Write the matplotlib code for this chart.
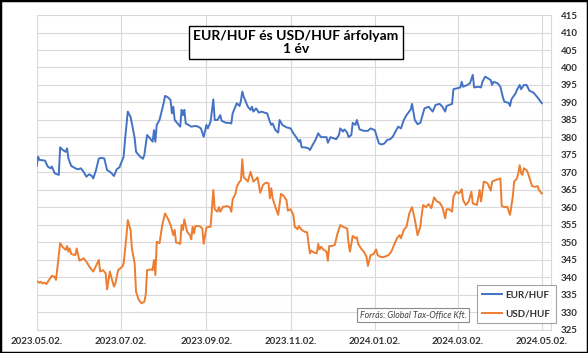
import matplotlib
matplotlib.use("Agg")
import matplotlib.pyplot as plt
import matplotlib.dates as mdates
from matplotlib.patches import Rectangle
import datetime as dt

plt.rcParams['font.family'] = ['Lato', 'DejaVu Sans']

START = dt.date(2023, 5, 2)

# days since 2023-05-02 and rates
eur_days = [0, 1, 2, 6, 8, 10, 11, 13, 16, 17, 19, 21, 22, 23, 25, 28, 30, 32, 34, 36,
            38, 40, 41, 43, 45, 47, 49, 51, 53, 54, 56, 58, 60, 63, 64, 66, 68, 69, 71, 72,
            75, 77, 78, 80, 82, 84, 85, 86, 87, 89,
            92, 93, 95, 97, 98, 99, 100, 103, 104, 105, 106, 107, 108, 110, 112, 115, 117, 119, 121, 123,
            124, 126, 128, 129, 131, 133, 134, 137, 139, 141, 142, 145, 147, 148, 149, 150, 152, 153, 155, 156,
            157, 159, 161, 163, 165, 167, 169, 170, 171, 173, 175, 176, 178, 181, 184,
            186, 188, 190, 191, 192, 194, 197, 198, 200, 202, 204, 206, 208, 210, 211, 213, 215, 217, 219, 220,
            222, 223, 225, 226, 228, 229, 231, 232, 234, 237, 240, 242, 245, 248, 250, 252, 254, 256, 258, 260,
            262, 264, 266, 268, 271, 272, 274, 276, 278,
            280, 281, 284, 287, 289, 292, 294, 296, 297, 299, 301, 302, 305, 307, 308, 309, 312, 314, 316, 317,
            320, 322, 323, 325, 327, 329, 330, 331, 334, 336, 338, 339, 342, 343, 344, 347, 348, 350, 351, 353,
            355, 357, 360, 362, 364, 366]
eur_vals = [371.9, 374.5, 373.6, 373.4, 371.7, 371.2, 371.7, 369.8, 369.3, 377.2, 376.4, 375.9, 376.9, 374.0, 371.9, 371.2, 370.9, 371.2, 370.2, 368.8,
            369.5, 369.0, 368.3, 370.7, 374.0, 374.2, 374.0, 370.7, 370.2, 369.9, 369.0, 370.9, 371.5, 374.5, 379.3, 387.4, 385.9, 384.0, 379.8, 375.9,
            374.5, 373.9, 375.0, 380.7, 379.8, 378.8, 382.1, 378.8, 383.6, 385.0,
            389.8, 391.9, 391.5, 390.7, 386.9, 388.8, 385.0, 383.6, 383.1, 387.9, 386.4, 387.9, 384.0, 383.6, 383.1, 383.3, 383.1, 382.6, 380.2, 383.6,
            382.6, 384.5, 390.9, 385.0, 385.0, 386.4, 384.8, 384.2, 384.2, 384.0, 386.9, 389.8, 389.0, 390.5, 393.1, 391.7, 389.8, 388.8, 387.9, 388.8,
            387.4, 388.3, 387.1, 387.4, 387.1, 386.9, 384.5, 383.6, 384.0, 382.1, 381.4, 385.0, 383.6, 382.9, 382.6,
            381.2, 380.1, 378.8, 379.3, 377.2, 377.2, 376.9, 376.4, 377.9, 379.3, 381.2, 380.1, 380.1, 380.1, 378.5, 380.1, 379.8, 379.5, 380.7, 382.6,
            381.7, 382.3, 381.4, 380.1, 380.7, 384.2, 383.6, 385.0, 382.3, 381.9, 381.9, 382.6, 382.1, 378.3, 378.0, 378.3, 379.3, 379.5, 380.2, 381.7,
            383.1, 382.6, 385.0, 386.4, 388.0, 389.6, 385.0, 383.8, 384.2,
            386.9, 388.3, 388.8, 387.4, 389.3, 389.6, 388.8, 387.4, 389.0, 389.3, 389.6, 393.8, 394.1, 394.3, 395.9, 394.5, 395.0, 395.5, 397.9, 394.3,
            394.5, 394.3, 395.9, 397.4, 396.9, 396.4, 395.0, 395.9, 395.5, 394.5, 391.2, 390.2, 389.9, 389.0, 390.9, 392.6, 393.6, 395.0, 393.8, 395.0,
            395.0, 393.4, 392.8, 391.9, 390.9, 389.8]

usd_days = [0, 2, 3, 4, 6, 7, 9, 11, 13, 14, 17, 19, 21, 22, 23, 24, 25, 28, 29, 31,
            34, 36, 39, 41, 45, 46, 48, 50, 51, 53, 54, 56, 57, 59, 62, 63, 65, 66, 68, 69,
            71, 72, 74, 76, 78, 79, 80, 83, 84, 85, 86, 87, 89,
            91, 93, 95, 97, 99, 100, 101, 103, 104, 105, 106, 107, 109, 111, 112, 113, 114, 115, 118, 120,
            121, 123, 126, 128, 129, 131, 132, 133, 135, 138, 140, 141, 142, 144, 145, 147, 148, 149, 150, 152,
            153, 155, 156, 157, 159, 160, 162, 164, 166, 168, 169, 170, 171, 173, 175, 177, 179, 181, 182, 184,
            186, 187, 189, 190, 192, 194, 196, 197, 198, 199, 201, 203, 204, 205, 206, 208, 210, 211, 212, 214,
            216, 218, 220, 222, 223, 225, 226, 227, 229, 231, 232, 233, 235, 237, 239, 240, 242, 244, 246, 247,
            249, 251, 252, 255, 257, 260, 261, 263, 264, 266, 268, 270, 272, 274, 276, 278,
            279, 280, 282, 284, 286, 288, 290, 292, 294, 296, 297, 299, 301, 302, 304, 306, 307, 308, 309, 311,
            312, 313, 315, 316, 319, 321, 322, 324, 326, 327, 329, 330, 333, 336, 337, 339, 341, 343, 345, 346,
            348, 349, 350, 351, 352, 353, 355, 356, 358, 359, 361, 363, 364, 366]
usd_vals = [339.0, 338.5, 338.8, 338.3, 338.5, 338.1, 339.3, 340.5, 340.2, 339.3, 349.8, 348.6, 347.9, 349.0, 347.4, 348.3, 346.7, 346.4, 348.3, 344.8,
            345.5, 344.5, 342.6, 341.7, 345.0, 341.7, 342.1, 341.2, 336.6, 341.7, 340.2, 337.4, 338.3, 342.1, 343.1, 344.0, 351.7, 356.4, 353.6, 348.3,
            344.0, 335.9, 333.6, 332.6, 333.1, 335.0, 342.1, 342.3, 342.1, 345.0, 340.7, 350.2, 349.8,
            355.0, 358.3, 356.9, 355.0, 352.1, 353.6, 350.0, 349.8, 349.6, 355.0, 353.6, 356.6, 353.1, 352.1, 350.9, 354.5, 352.6, 354.7, 354.7, 354.0,
            349.6, 354.3, 354.5, 365.0, 359.5, 358.8, 360.1, 358.8, 360.2, 360.4, 360.1, 358.8, 362.3, 363.9, 365.9, 367.4, 367.7, 373.8, 368.6, 367.9,
            367.4, 370.2, 368.8, 367.4, 368.1, 368.6, 364.2, 366.4, 367.1, 366.9, 362.6, 365.5, 362.6, 360.1, 357.9, 363.9, 363.3, 362.1, 359.1, 359.5,
            357.9, 354.5, 353.8, 354.7, 353.6, 353.1, 352.9, 349.6, 346.9, 347.7, 347.1, 346.9, 349.6, 348.0, 348.8, 347.9, 347.4, 344.8, 349.0, 349.0,
            349.3, 352.6, 355.0, 354.5, 354.3, 354.0, 349.8, 347.4, 351.9, 351.2, 351.5, 349.6, 348.3, 347.4, 345.9, 343.3, 346.4, 346.7, 348.0, 346.4,
            345.9, 345.8, 345.9, 346.4, 347.4, 350.2, 351.2, 352.1, 351.2, 353.6, 354.5, 358.3, 360.1, 356.6, 352.1, 354.5,
            357.9, 360.7, 360.1, 361.0, 359.8, 362.9, 361.7, 361.4, 360.1, 356.9, 359.5, 359.5, 358.8, 363.1, 364.5, 364.0, 364.5, 365.2, 362.1, 360.7,
            361.2, 361.7, 364.5, 361.2, 360.7, 365.0, 361.7, 367.4, 367.1, 366.7, 364.8, 367.4, 367.9, 368.3, 360.4, 360.1, 360.2, 357.9, 363.1, 367.4,
            368.3, 369.8, 372.1, 369.8, 369.3, 371.2, 370.7, 369.8, 367.4, 366.1, 365.9, 366.1, 365.0, 364.0]

x_tick_dates = ["2023-05-02", "2023-07-02", "2023-09-02", "2023-11-02",
                "2024-01-02", "2024-03-02", "2024-05-02"]
x_tick_labels = ["2023.05.02.", "2023.07.02.", "2023.09.02.", "2023.11.02.",
                 "2024.01.02.", "2024.03.02.", "2024.05.02."]
y_ticks = list(range(325, 416, 5))

series_names = ["EUR/HUF", "USD/HUF"]
title_text = "EUR/HUF és USD/HUF árfolyam\n1 év"
source_text = "Forrás: Global Tax-Office Kft."

eur_dates = [START + dt.timedelta(days=d) for d in eur_days]
usd_dates = [START + dt.timedelta(days=d) for d in usd_days]
tick_dates = [dt.date.fromisoformat(s) for s in x_tick_dates]

fig = plt.figure(figsize=(5.88, 3.53), dpi=100)
ax = fig.add_axes([0.0624, 0.0652, 0.8754, 0.8923])

blue = "#4472C4"
orange = "#ED7D31"
ax.plot(eur_dates, eur_vals, color=blue, lw=1.4, label=series_names[0], zorder=3)
ax.plot(usd_dates, usd_vals, color=orange, lw=1.4, label=series_names[1], zorder=3)

ax.set_xlim(START, START + dt.timedelta(days=373))
ax.set_ylim(325, 415)
ax.set_yticks(y_ticks)
ax.set_xticks(tick_dates)
ax.set_xticklabels(x_tick_labels)
ax.yaxis.tick_right()
ax.tick_params(axis='y', length=0, pad=6.5, labelsize=7, labelcolor="#333333")
ax.tick_params(axis='x', length=0, pad=5, labelsize=7, labelcolor="#333333")
for lab in ax.get_xticklabels() + ax.get_yticklabels():
    lab.set_fontweight('bold')

ax.grid(True, color="#d9d9d9", lw=0.8)
ax.set_axisbelow(True)
for side in ["top", "left"]:
    ax.spines[side].set_visible(False)
for side in ["bottom", "right"]:
    ax.spines[side].set_color("#d9d9d9")
    ax.spines[side].set_linewidth(0.8)

fig.text(0.503, 0.8796, title_text, ha="center", va="center", multialignment="center",
         fontsize=10, fontweight="bold", color="black", linespacing=1.15,
         bbox=dict(boxstyle="square,pad=0.3", facecolor="white", edgecolor="black", lw=1.0),
         zorder=5)

fig.text(0.7029, 0.1076, source_text, ha="center", va="center", fontsize=6.3,
         style="italic", color="#404040",
         bbox=dict(boxstyle="square,pad=0.3", facecolor="white", edgecolor="#8c8c8c", lw=0.8),
         zorder=5)

leg = fig.legend(loc="upper left", bbox_to_anchor=(476.7 / 588, 1 - 285 / 353),
                 frameon=True, fancybox=False, edgecolor="#8c8c8c", fontsize=7,
                 handlelength=2.1, handletextpad=0.3, labelspacing=1.0,
                 borderpad=0.55, borderaxespad=0)
leg.get_frame().set_linewidth(0.8)
for t in leg.get_texts():
    t.set_fontweight("bold")
    t.set_color("#333333")

fig.patches.append(Rectangle((0, 0), 1, 1, transform=fig.transFigure, fill=False,
                             edgecolor="black", lw=2.5, zorder=10))

fig.savefig("out.png", dpi=100)
